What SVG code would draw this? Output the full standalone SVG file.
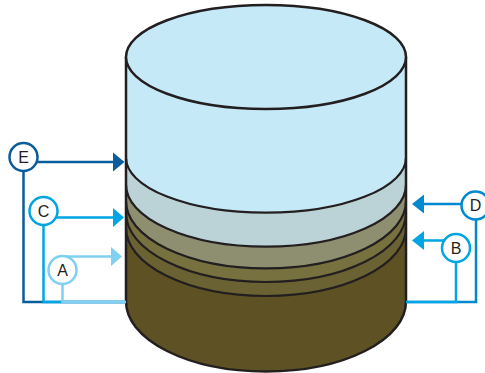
<svg xmlns="http://www.w3.org/2000/svg" width="485" height="373" viewBox="0 0 485 373">
<style>
.out{fill:none;stroke:#231f20;stroke-width:2.5}
.top{fill:#c6e9f8;stroke:#231f20;stroke-width:2.5}
.cur{fill:none;stroke:#231f20;stroke-width:2.2}
.lbl{font-family:"Liberation Sans",Arial,sans-serif;font-size:16px;fill:#231f20;text-anchor:middle}
.circ{fill:#fff;stroke-width:2.5}
.ln{fill:none;stroke-width:2.5}
</style>
<rect width="485" height="373" fill="#fff"/>
<g id="cylinder">
<path d="M126,57 L126,301.5 A140,70 0 0 0 406,301.5 L406,57 Z" fill="#5e5123"/>
<path d="M126,57 L126,228 A140,68 0 0 0 406,228 L406,57 Z" fill="#6a6232"/>
<path d="M126,57 L126,213 A140,69 0 0 0 406,213 L406,57 Z" fill="#76713f"/>
<path d="M126,57 L126,201.3 A140,67 0 0 0 406,201.3 L406,57 Z" fill="#8e8f70"/>
<path d="M126,57 L126,184.7 A140,62 0 0 0 406,184.7 L406,57 Z" fill="#bbd3d6"/>
<path d="M126,57 L126,157.7 A140,55 0 0 0 406,157.7 L406,57 Z" fill="#c6e9f8"/>
<path class="cur" d="M126,228 A140,68 0 0 0 406,228"/>
<path class="cur" d="M126,213 A140,69 0 0 0 406,213"/>
<path class="cur" d="M126,201.3 A140,67 0 0 0 406,201.3"/>
<path class="cur" d="M126,184.7 A140,62 0 0 0 406,184.7"/>
<path class="cur" d="M126,157.7 A140,55 0 0 0 406,157.7"/>
<path class="out" d="M126,57 L126,301.5 A140,70 0 0 0 406,301.5 L406,57"/>
<ellipse class="top" cx="266" cy="57" rx="140" ry="52"/>
</g>
<g id="connectors">
<path class="ln" stroke="#0b5c9a" d="M23.5,157 L23.5,302 L126,302 M23.5,162 L114,162"/>
<polygon fill="#0b5c9a" points="113,152.5 124.5,162 113,171.5"/>
<path class="ln" stroke="#00a5e3" d="M43.5,211 L43.5,302 L126,302 M43.5,217.5 L114,217.5"/>
<polygon fill="#00a5e3" points="113,208 124,217.5 113,227"/>
<path class="ln" stroke="#80d0f2" d="M62.5,270 L62.5,302 L126,302 M62.5,256.5 L112,256.5"/>
<polygon fill="#80d0f2" points="111,247 122,256.5 111,266"/>
<path class="ln" stroke="#0089cf" d="M476,205.5 L476,302 L406,302 M476,204 L423,204"/>
<polygon fill="#0089cf" points="424,194.5 412,204 424,213.5"/>
<path class="ln" stroke="#00a5e3" d="M456,248 L456,302 L406,302 M456,240.5 L423,240.5"/>
<polygon fill="#00a5e3" points="424,231 412,240.5 424,250"/>
</g>
<g id="node-E"><circle class="circ" stroke="#0b5c9a" cx="23.5" cy="157" r="14"/><text class="lbl" x="23.5" y="162.5">E</text></g>
<g id="node-C"><circle class="circ" stroke="#00a5e3" cx="43.5" cy="211" r="14"/><text class="lbl" x="43.5" y="216.5">C</text></g>
<g id="node-A"><circle class="circ" stroke="#80d0f2" cx="62.5" cy="270" r="14"/><text class="lbl" x="62.5" y="275.5">A</text></g>
<g id="node-D"><circle class="circ" stroke="#0089cf" cx="475.5" cy="205.5" r="14"/><text class="lbl" x="475.5" y="211">D</text></g>
<g id="node-B"><circle class="circ" stroke="#00a5e3" cx="456" cy="248" r="14"/><text class="lbl" x="456" y="253.5">B</text></g>
</svg>
